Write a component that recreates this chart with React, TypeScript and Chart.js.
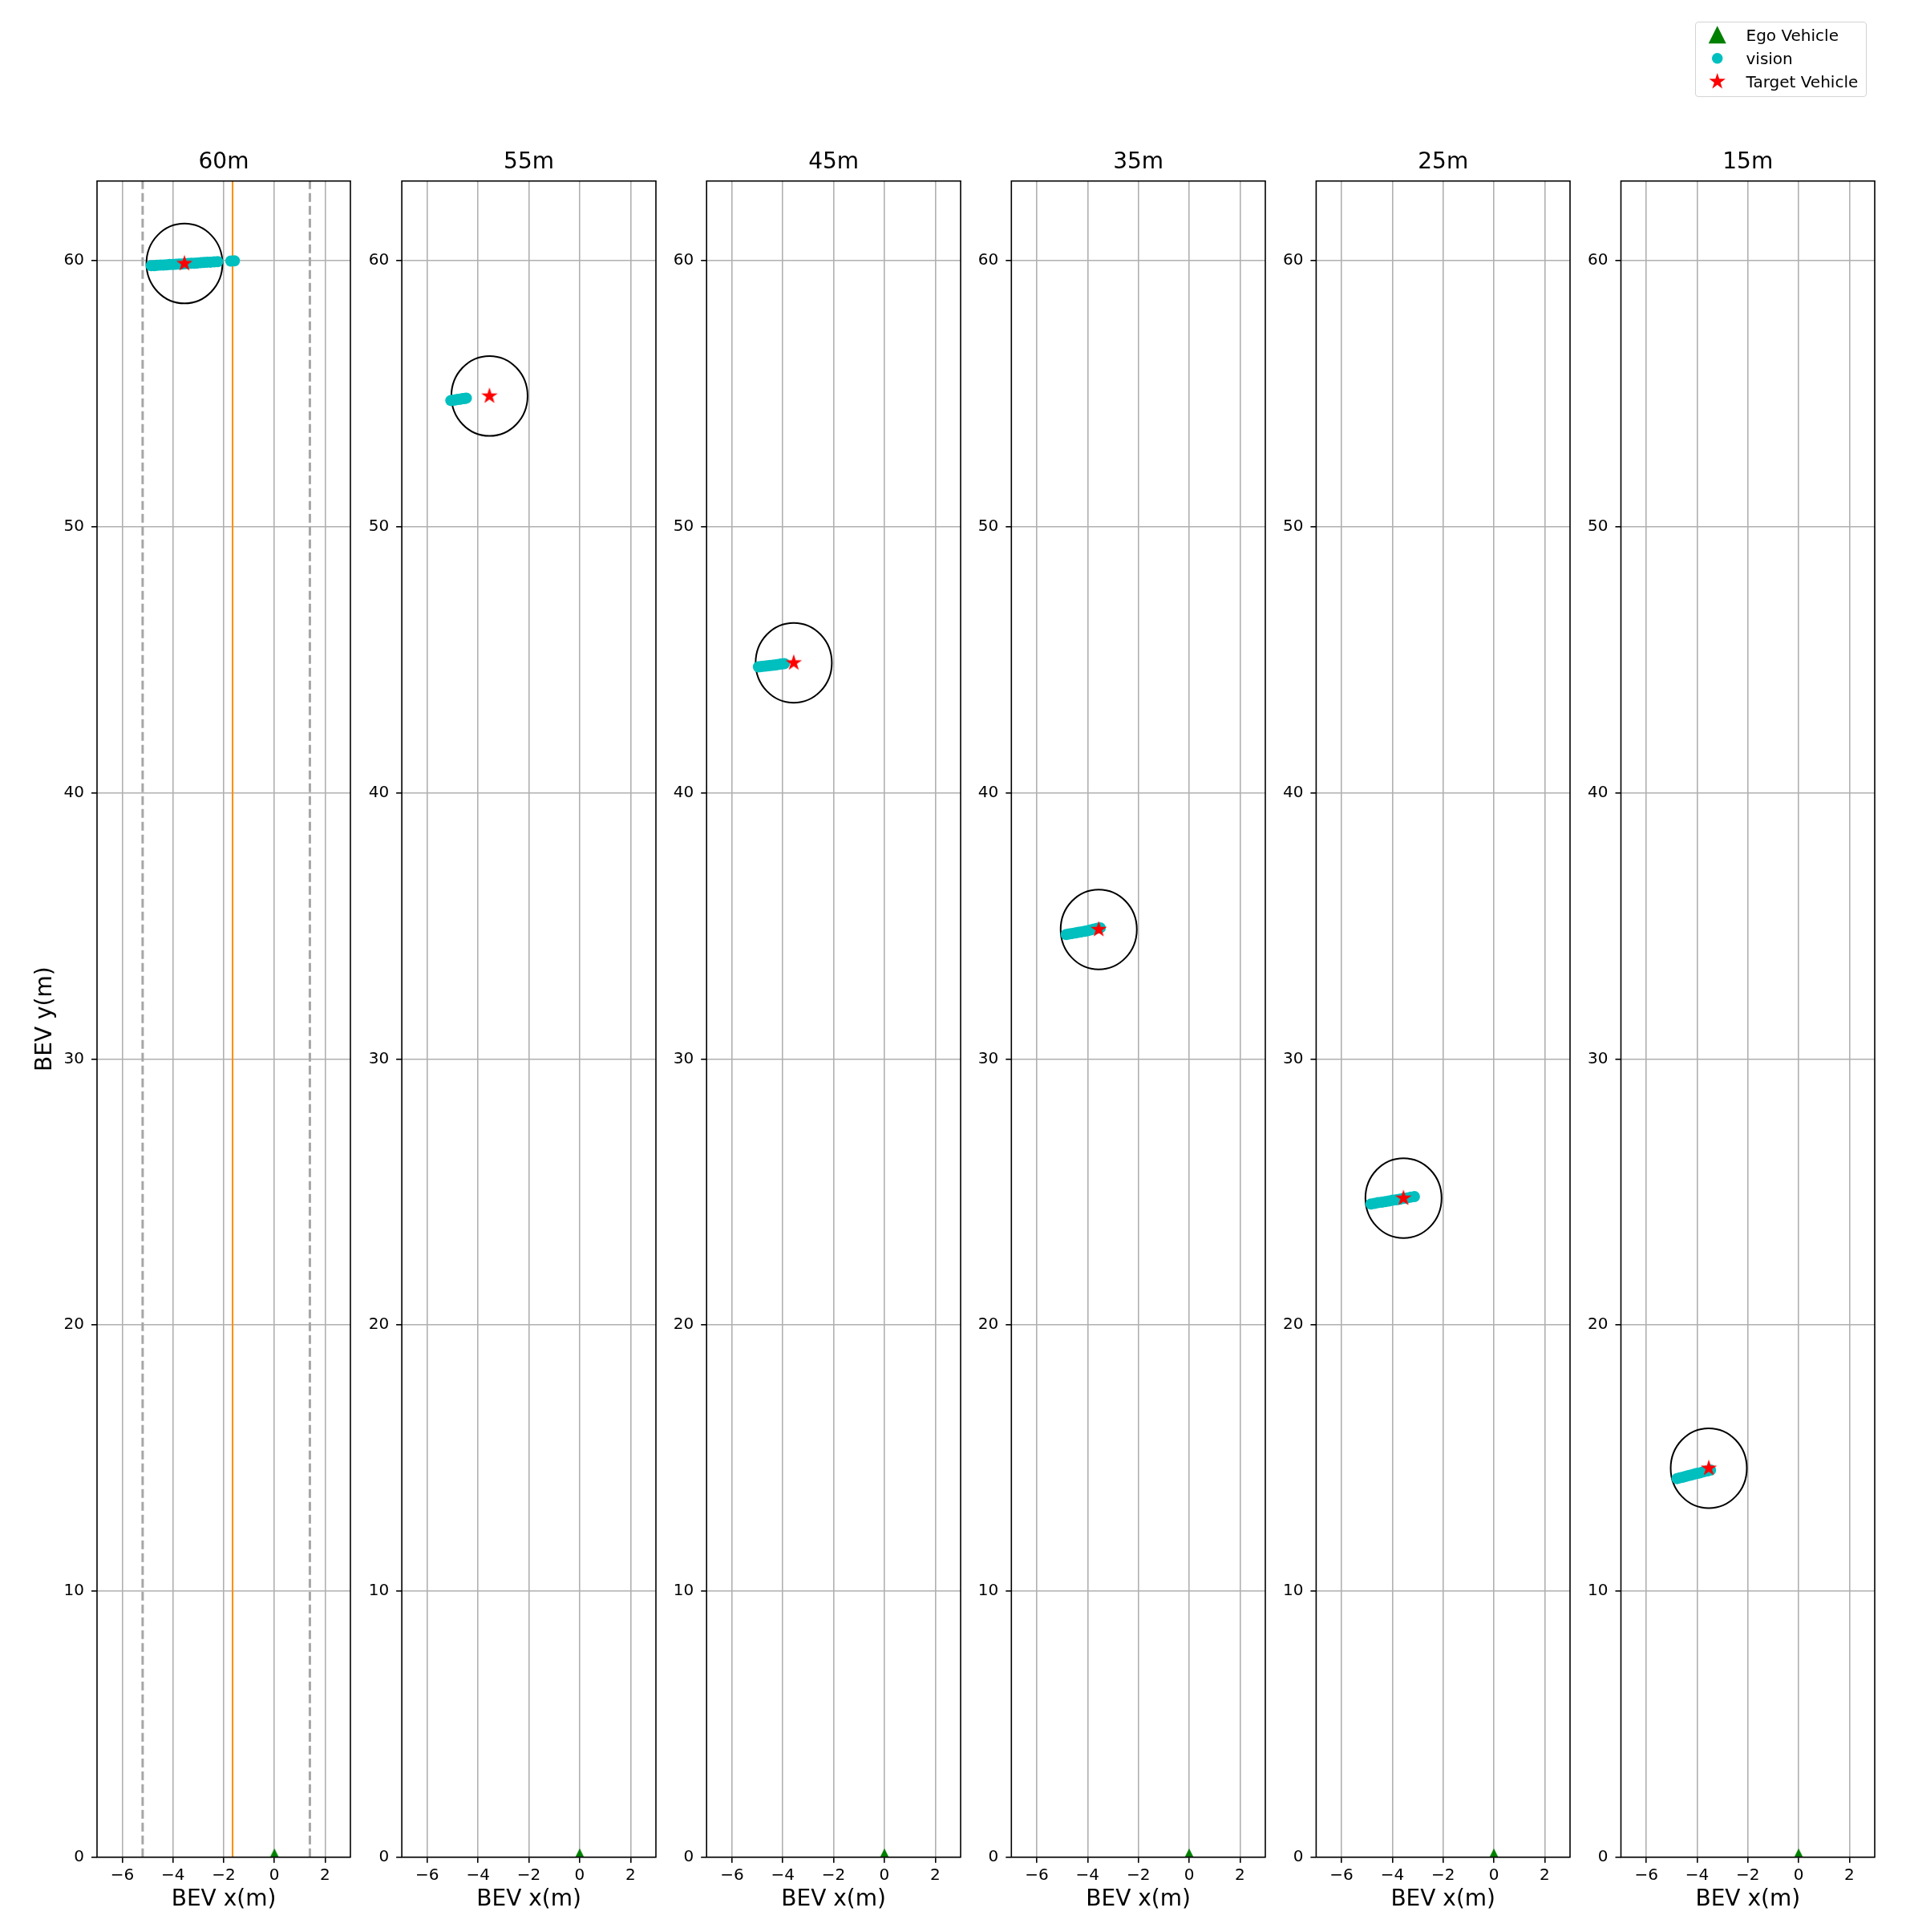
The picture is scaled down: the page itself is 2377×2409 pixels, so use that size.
import React, { useEffect, useRef } from 'react';
import { Chart, registerables } from 'chart.js';

Chart.register(...registerables);
Chart.defaults.font.family = "'DejaVu Sans', sans-serif";

// ---------------- data ----------------
const PANEL_TITLES = ['60m', '55m', '45m', '35m', '25m', '15m'];
const X_TICKS = [-6, -4, -2, 0, 2];
const Y_TICKS = [0, 10, 20, 30, 40, 50, 60];
const X_RANGE = [-7, 3];
const Y_RANGE = [0, 63];
const X_LABEL = 'BEV x(m)';
const Y_LABEL = 'BEV y(m)';
const LEGEND_LABELS = ['Ego Vehicle', 'vision', 'Target Vehicle'];

const EGO_X = [0];
const EGO_Y = [0];

const TARGET_X = [-3.55, -3.55, -3.57, -3.56, -3.56, -3.54];
const TARGET_Y = [59.9, 54.92, 44.89, 34.87, 24.77, 14.62];
const CIRCLE_RADIUS = 1.5;

const VISION_60_X = [-4.86, -4.74, -4.62, -4.5, -4.38, -4.26, -4.13, -4.01, -3.89, -3.77, -3.65, -3.52, -3.4, -3.28, -3.15, -3.03, -2.9, -2.78, -2.65, -2.52, -2.38, -2.24, -1.72, -1.58];
const VISION_60_Y = [59.82, 59.82, 59.83, 59.84, 59.84, 59.85, 59.86, 59.86, 59.87, 59.88, 59.88, 59.89, 59.9, 59.91, 59.91, 59.92, 59.93, 59.94, 59.95, 59.95, 59.96, 59.97, 59.99, 60.0];
const VISION_55_X = [-5.07, -5.0, -4.93, -4.86, -4.79, -4.72, -4.66, -4.59, -4.52, -4.46];
const VISION_55_Y = [54.75, 54.76, 54.77, 54.78, 54.79, 54.8, 54.81, 54.82, 54.83, 54.84];
const VISION_45_X = [-4.96, -4.87, -4.78, -4.68, -4.59, -4.5, -4.4, -4.31, -4.22, -4.12, -4.03, -3.94];
const VISION_45_Y = [44.74, 44.75, 44.76, 44.77, 44.78, 44.79, 44.8, 44.81, 44.82, 44.84, 44.85, 44.86];
const VISION_35_X = [-4.84, -4.72, -4.6, -4.48, -4.36, -4.24, -4.12, -4.0, -3.88, -3.75, -3.62, -3.5];
const VISION_35_Y = [34.68, 34.7, 34.72, 34.74, 34.76, 34.78, 34.8, 34.82, 34.85, 34.88, 34.91, 34.93];
const VISION_25_X = [-4.84, -4.7, -4.56, -4.41, -4.27, -4.13, -3.99, -3.84, -3.7, -3.56, -3.41, -3.27, -3.13];
const VISION_25_Y = [24.55, 24.57, 24.6, 24.62, 24.64, 24.66, 24.69, 24.71, 24.73, 24.76, 24.78, 24.81, 24.83];
const VISION_15_X = [-4.79, -4.68, -4.57, -4.46, -4.35, -4.24, -4.13, -4.02, -3.91, -3.8, -3.69, -3.58, -3.47];
const VISION_15_Y = [14.23, 14.26, 14.28, 14.31, 14.34, 14.36, 14.39, 14.42, 14.44, 14.47, 14.5, 14.52, 14.55];

// lane markings shown in the first panel only
const LANE_DASHED_X = [-5.2, 1.4];
const LANE_CENTER_X = [-1.65];

const VISION_X = [VISION_60_X, VISION_55_X, VISION_45_X, VISION_35_X, VISION_25_X, VISION_15_X];
const VISION_Y = [VISION_60_Y, VISION_55_Y, VISION_45_Y, VISION_35_Y, VISION_25_Y, VISION_15_Y];

// ---------------- layout ----------------
const FIG_W = 2377;
const FIG_H = 2409;
const PANEL_LEFT0 = 121;
const PANEL_STEP = 380.1;
const PANEL_W = 316;
const AREA_TOP = 225.7;
const AREA_BOTTOM = 2315.7;
const Y_AXIS_W = 100;
const X_AXIS_H = 70;
const TITLE_SIZE = 28;
const TITLE_PAD_BOTTOM = 6.4;
const CANVAS_EXTRA_LEFT = 120;
const CANVAS_EXTRA_RIGHT = 10;

const CYAN = '#00bfbf';
const GREEN = '#008000';
const RED = '#ff0000';
const ORANGE = '#ff8c00';
const GRID = '#b0b0b0';

const fmt = (v: number) => (v < 0 ? '\u2212' + Math.abs(v) : String(v));

function makeTriangle(): HTMLCanvasElement {
  const c = document.createElement('canvas');
  c.width = 22;
  c.height = 22;
  const ctx = c.getContext('2d')!;
  ctx.fillStyle = GREEN;
  ctx.beginPath();
  ctx.moveTo(11, 0);
  ctx.lineTo(22, 22);
  ctx.lineTo(0, 22);
  ctx.closePath();
  ctx.fill();
  return c;
}

function starPoints(cx: number, cy: number, ro: number) {
  const ri = ro * 0.382;
  const pts: [number, number][] = [];
  for (let k = 0; k < 10; k++) {
    const a = -Math.PI / 2 + (k * Math.PI) / 5;
    const r = k % 2 === 0 ? ro : ri;
    pts.push([cx + r * Math.cos(a), cy + r * Math.sin(a)]);
  }
  return pts;
}

function makeStar(): HTMLCanvasElement {
  const c = document.createElement('canvas');
  c.width = 24;
  c.height = 24;
  const ctx = c.getContext('2d')!;
  ctx.fillStyle = RED;
  ctx.beginPath();
  starPoints(12, 12, 10.8).forEach(([x, y], k) => (k === 0 ? ctx.moveTo(x, y) : ctx.lineTo(x, y)));
  ctx.closePath();
  ctx.fill();
  return c;
}

const framePlugin = {
  id: 'frame',
  afterDatasetsDraw(chart: any) {
    const { ctx, chartArea: a } = chart;
    ctx.save();
    ctx.strokeStyle = '#000';
    ctx.lineWidth = 1.6;
    ctx.strokeRect(a.left, a.top, a.right - a.left, a.bottom - a.top);
    ctx.restore();
  },
};

function circlePlugin(cx: number, cy: number, r: number) {
  return {
    id: 'targetCircle',
    beforeDatasetsDraw(chart: any) {
      const { ctx, chartArea: a } = chart;
      const xs = chart.scales.x;
      const ys = chart.scales.y;
      const px = xs.getPixelForValue(cx);
      const py = ys.getPixelForValue(cy);
      const rx = Math.abs(xs.getPixelForValue(cx + r) - px);
      const ry = Math.abs(ys.getPixelForValue(cy + r) - py);
      ctx.save();
      ctx.beginPath();
      ctx.rect(a.left, a.top, a.right - a.left, a.bottom - a.top);
      ctx.clip();
      ctx.beginPath();
      ctx.ellipse(px, py, rx, ry, 0, 0, Math.PI * 2);
      ctx.strokeStyle = '#000';
      ctx.lineWidth = 2;
      ctx.stroke();
      ctx.restore();
    },
  };
}

function buildConfig(i: number, padLeft: number): any {
  const star = makeStar();
  const tri = makeTriangle();
  const datasets: any[] = [
    {
      label: LEGEND_LABELS[2],
      data: [{ x: TARGET_X[i], y: TARGET_Y[i] }],
      pointStyle: star,
      clip: 0,
    },
    {
      label: LEGEND_LABELS[1],
      data: VISION_X[i].map((x, k) => ({ x, y: VISION_Y[i][k] })),
      backgroundColor: CYAN,
      borderWidth: 0,
      pointRadius: 7,
      pointStyle: 'circle',
      clip: 0,
    },
    {
      label: LEGEND_LABELS[0],
      data: [{ x: EGO_X[0], y: EGO_Y[0] }],
      pointStyle: tri,
      clip: 0,
    },
  ];
  if (i === 0) {
    LANE_CENTER_X.forEach((lx) =>
      datasets.push({
        label: 'lane center',
        data: [{ x: lx, y: Y_RANGE[0] }, { x: lx, y: Y_RANGE[1] }],
        showLine: true,
        borderColor: ORANGE,
        borderWidth: 2,
        pointRadius: 0,
        clip: 0,
      })
    );
    LANE_DASHED_X.forEach((lx) =>
      datasets.push({
        label: 'lane edge',
        data: [{ x: lx, y: Y_RANGE[0] }, { x: lx, y: Y_RANGE[1] }],
        showLine: true,
        borderColor: '#a6a6a6',
        borderWidth: 3,
        borderDash: [11, 5],
        pointRadius: 0,
        clip: 0,
      })
    );
  }
  const grid = { color: GRID, lineWidth: 1.6, tickColor: '#000', tickWidth: 1.6, tickLength: 7 };
  return {
    type: 'scatter',
    data: { datasets },
    options: {
      animation: false,
      responsive: false,
      maintainAspectRatio: false,
      events: [],
      layout: {
        padding: {
          left: padLeft,
          right: CANVAS_EXTRA_RIGHT,
          top: AREA_TOP - (TITLE_SIZE * 1.2 + TITLE_PAD_BOTTOM),
          bottom: FIG_H - AREA_BOTTOM - X_AXIS_H,
        },
      },
      plugins: {
        legend: { display: false },
        tooltip: { enabled: false },
        title: {
          display: true,
          text: PANEL_TITLES[i],
          fullSize: false,
          color: '#000',
          font: { size: TITLE_SIZE, weight: 'normal' },
          padding: { top: 0, bottom: TITLE_PAD_BOTTOM },
        },
      },
      scales: {
        x: {
          type: 'linear',
          min: X_RANGE[0],
          max: X_RANGE[1],
          afterBuildTicks: (s: any) => {
            s.ticks = X_TICKS.map((v) => ({ value: v }));
          },
          afterFit: (s: any) => {
            s.height = X_AXIS_H;
          },
          ticks: {
            color: '#000',
            font: { size: 20 },
            padding: 4,
            autoSkip: false,
            maxRotation: 0,
            callback: (v: number) => fmt(v),
          },
          grid,
          border: { display: false },
          title: {
            display: true,
            text: X_LABEL,
            color: '#000',
            font: { size: 28 },
            padding: { top: 0, bottom: 0 },
          },
        },
        y: {
          type: 'linear',
          min: Y_RANGE[0],
          max: Y_RANGE[1],
          afterBuildTicks: (s: any) => {
            s.ticks = Y_TICKS.map((v) => ({ value: v }));
          },
          afterFit: (s: any) => {
            s.width = Y_AXIS_W;
          },
          ticks: {
            color: '#000',
            font: { size: 20 },
            padding: 9,
            autoSkip: false,
            callback: (v: number) => fmt(v),
          },
          grid,
          border: { display: false },
          title: {
            display: i === 0,
            text: Y_LABEL,
            color: '#000',
            font: { size: 28 },
            padding: { top: 18.7, bottom: 0 },
          },
        },
      },
    },
    plugins: [circlePlugin(TARGET_X[i], TARGET_Y[i], CIRCLE_RADIUS), framePlugin],
  };
}

function Panel({ index }: { index: number }) {
  const ref = useRef<HTMLCanvasElement>(null);
  const areaLeft = PANEL_LEFT0 + PANEL_STEP * index;
  const canvasLeft = Math.floor(areaLeft - CANVAS_EXTRA_LEFT);
  const padLeft = areaLeft - canvasLeft - Y_AXIS_W;
  const width = Math.ceil(areaLeft - canvasLeft + PANEL_W + CANVAS_EXTRA_RIGHT);
  useEffect(() => {
    const chart = new Chart(ref.current as HTMLCanvasElement, buildConfig(index, padLeft));
    return () => chart.destroy();
  }, [index, padLeft]);
  return (
    <canvas
      ref={ref}
      width={width}
      height={FIG_H}
      style={{ position: 'absolute', left: canvasLeft, top: 0, width, height: FIG_H }}
    />
  );
}

function Legend() {
  const left = 2114;
  const top = 26.7;
  const w = 213.7;
  const h = 94;
  const mx = 2141.7;
  const rows = [43.3, 72.7, 101.7];
  const starPath = starPoints(mx, rows[2], 10.8)
    .map(([x, y], k) => `${k === 0 ? 'M' : 'L'}${x.toFixed(2)},${y.toFixed(2)}`)
    .join(' ') + ' Z';
  return (
    <>
      <div
        style={{
          position: 'absolute',
          left,
          top,
          width: w,
          height: h,
          boxSizing: 'border-box',
          border: '1.6px solid #d4d4d4',
          borderRadius: 4,
          background: 'rgba(255,255,255,0.8)',
        }}
      />
      <svg
        width={FIG_W}
        height={140}
        style={{ position: 'absolute', left: 0, top: 0, overflow: 'visible' }}
      >
        <polygon
          points={`${mx},${rows[0] - 11} ${mx + 11},${rows[0] + 11} ${mx - 11},${rows[0] + 11}`}
          fill={GREEN}
        />
        <circle cx={mx} cy={rows[1]} r={6.8} fill={CYAN} />
        <path d={starPath} fill={RED} />
      </svg>
      {LEGEND_LABELS.map((t, k) => (
        <div
          key={t}
          style={{
            position: 'absolute',
            left: 2177.5,
            top: rows[k] - 11.6,
            fontFamily: "'DejaVu Sans', sans-serif",
            fontSize: 20,
            lineHeight: '24px',
            whiteSpace: 'nowrap',
            color: '#000',
          }}
        >
          {t}
        </div>
      ))}
    </>
  );
}

export default function App() {
  return (
    <div
      style={{
        position: 'absolute',
        left: 0,
        top: 0,
        width: FIG_W,
        height: FIG_H,
        background: '#fff',
        overflow: 'hidden',
      }}
    >
      {PANEL_TITLES.map((_, i) => (
        <Panel key={i} index={i} />
      ))}
      <Legend />
    </div>
  );
}
